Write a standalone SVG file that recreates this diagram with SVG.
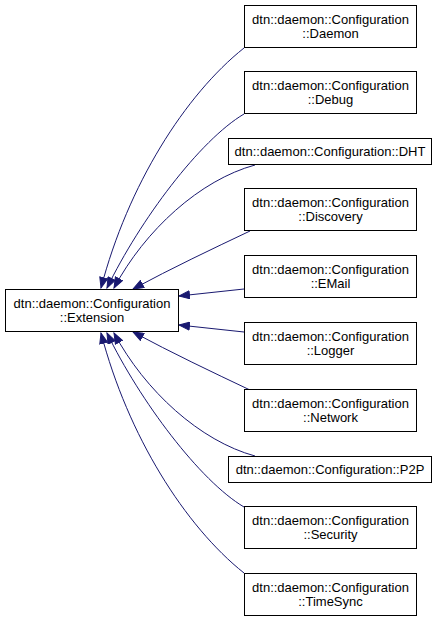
<svg xmlns="http://www.w3.org/2000/svg" width="440" height="621" viewBox="0 0 440 621">
<style>
.box{fill:#ffffff;stroke:#000000;stroke-width:1}
.t{font-family:"Liberation Sans",Arial,Helvetica,sans-serif;font-size:13px;fill:#000000;text-anchor:middle}
.e{fill:none;stroke:#191970;stroke-width:1}
</style>
<defs>
<marker id="ah" markerUnits="userSpaceOnUse" markerWidth="12" markerHeight="9" viewBox="0 0 12 9" refX="11" refY="4.5" orient="auto">
<path d="M0.5,0.5 L11,4.5 L0.5,8.5 Z" fill="#191970" stroke="#191970" stroke-width="1"/>
</marker>
</defs>
<rect width="440" height="621" fill="#ffffff"/>
<g id="connectors">
<path class="e" marker-end="url(#ah)" d="M244,48 C185,95 128,185 101,288"/>
<path class="e" marker-end="url(#ah)" d="M244,114 C200,140 140,220 107,288"/>
<path class="e" marker-end="url(#ah)" d="M255,165 C200,180 145,230 114,288"/>
<path class="e" marker-end="url(#ah)" d="M250,231 C212,249 172,268 133,289"/>
<path class="e" marker-end="url(#ah)" d="M244,289 L179,296"/>
<path class="e" marker-end="url(#ah)" d="M244,332 L179,325"/>
<path class="e" marker-end="url(#ah)" d="M250,390 C212,372 172,353 133,332"/>
<path class="e" marker-end="url(#ah)" d="M255,456 C200,441 145,391 114,333"/>
<path class="e" marker-end="url(#ah)" d="M244,507 C200,481 140,401 107,333"/>
<path class="e" marker-end="url(#ah)" d="M244,573 C185,526 128,436 101,333"/>
</g>
<g id="extension">
<rect class="box" x="5.5" y="289.5" width="173" height="42"/>
<text class="t" x="92" y="307.5">dtn::daemon::Configuration</text>
<text class="t" x="92" y="322">::Extension</text>
</g>
<g id="daemon">
<rect class="box" x="244.5" y="5.5" width="172" height="42"/>
<text class="t" x="330.5" y="23.5">dtn::daemon::Configuration</text>
<text class="t" x="330.5" y="38">::Daemon</text>
</g>
<g id="debug">
<rect class="box" x="244.5" y="71.5" width="172" height="42"/>
<text class="t" x="330.5" y="89.5">dtn::daemon::Configuration</text>
<text class="t" x="330.5" y="104">::Debug</text>
</g>
<g id="dht">
<rect class="box" x="228.5" y="138.5" width="203" height="26"/>
<text class="t" x="330" y="156">dtn::daemon::Configuration::DHT</text>
</g>
<g id="discovery">
<rect class="box" x="244.5" y="188.5" width="172" height="42"/>
<text class="t" x="330.5" y="206.5">dtn::daemon::Configuration</text>
<text class="t" x="330.5" y="221">::Discovery</text>
</g>
<g id="email">
<rect class="box" x="244.5" y="255.5" width="172" height="42"/>
<text class="t" x="330.5" y="273.5">dtn::daemon::Configuration</text>
<text class="t" x="330.5" y="288">::EMail</text>
</g>
<g id="logger">
<rect class="box" x="244.5" y="322.5" width="172" height="42"/>
<text class="t" x="330.5" y="340.5">dtn::daemon::Configuration</text>
<text class="t" x="330.5" y="355">::Logger</text>
</g>
<g id="network">
<rect class="box" x="244.5" y="389.5" width="172" height="42"/>
<text class="t" x="330.5" y="407.5">dtn::daemon::Configuration</text>
<text class="t" x="330.5" y="422">::Network</text>
</g>
<g id="p2p">
<rect class="box" x="228.5" y="456.5" width="203" height="26"/>
<text class="t" x="330" y="474">dtn::daemon::Configuration::P2P</text>
</g>
<g id="security">
<rect class="box" x="244.5" y="506.5" width="172" height="42"/>
<text class="t" x="330.5" y="524.5">dtn::daemon::Configuration</text>
<text class="t" x="330.5" y="539">::Security</text>
</g>
<g id="timesync">
<rect class="box" x="244.5" y="573.5" width="172" height="42"/>
<text class="t" x="330.5" y="591.5">dtn::daemon::Configuration</text>
<text class="t" x="330.5" y="606">::TimeSync</text>
</g>
</svg>
